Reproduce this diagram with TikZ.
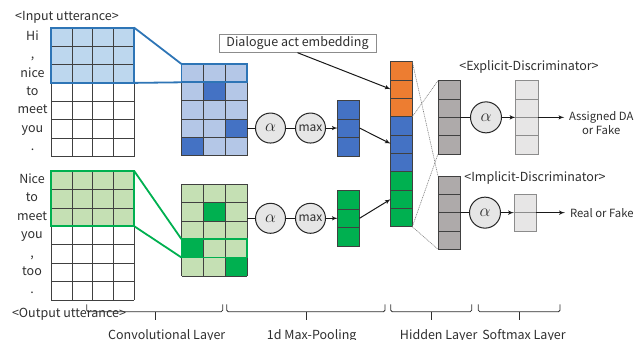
\documentclass[tikz,border=0pt]{standalone}
\usepackage{fontspec}
\setmainfont{Noto Sans CJK JP}
\usetikzlibrary{arrows,positioning,calc}

\definecolor{txtgray}{HTML}{2E2E2E}
\definecolor{gridgray}{HTML}{404040}
\definecolor{winblue}{HTML}{2E75B6}
\definecolor{inblue}{HTML}{BDD7EE}
\definecolor{lightblue}{HTML}{B4C7E7}
\definecolor{darkblue}{HTML}{4472C4}
\definecolor{wingreen}{HTML}{00B050}
\definecolor{lightgreen}{HTML}{C5E0B4}
\definecolor{darkgreen}{HTML}{00B050}
\definecolor{actorange}{HTML}{ED7D31}
\definecolor{hidgray}{HTML}{AEAAAA}
\definecolor{smgray}{HTML}{E7E6E6}
\definecolor{smedge}{HTML}{8C8C8C}
\definecolor{opfill}{HTML}{E6E6E6}
\definecolor{fangray}{HTML}{7F7F7F}

% activation symbol inside the circles
\newcommand{\actfn}{{\fontsize{16}{16}\selectfont$\alpha$}}

\begin{document}
\begin{tikzpicture}[x=1pt,y=-1pt,
				font=\fontsize{12.5}{13.7}\selectfont, text=txtgray,
				word/.style ={text height=1.5ex, text depth=.25ex, inner sep=0pt},
				grid/.style ={draw=gridgray, line width=0.6pt},
				block/.style ={rectangle, inner sep=0pt, outer sep=0pt, anchor=north west},
				vec/.style ={rectangle, draw=gridgray, line width=0.6pt, inner sep=0pt,
					outer sep=0pt, minimum width=21.8pt},
				win_blue/.style ={block, draw=winblue, line width=1.8pt},
				win_green/.style ={block, draw=wingreen, line width=1.8pt},
				op/.style ={circle, draw=black!85, line width=1pt, fill=opfill,
					minimum size=30pt, inner sep=0pt, font=\fontsize{12}{13}\selectfont},
				result/.style ={inner sep=0pt, font=\fontsize{11.3}{13.7}\selectfont},
				line/.style ={draw=black!90, line width=1pt, -latex', shorten >=0pt},
				link/.style ={draw=black!90, line width=1pt},
				fan/.style ={draw=fangray, line width=0.6pt, dash pattern=on 1pt off 0.8pt},
				bracket/.style ={draw=txtgray, line width=0.8pt, rounded corners=1.5pt}]
	\useasboundingbox (0,0) rectangle (635,340);

	% input utterance
	\node[block, minimum width=83.2pt, minimum height=128.8pt] (inGrid) at (51,27.7) {};
	\fill[inblue] (inGrid.north west) rectangle ++(83.2,55.2);
	\foreach \i in {0,...,4}
		\draw[grid] ($(inGrid.north west)+(20.8*\i,0)$) -- ++(0,128.8);
	\foreach \j in {0,...,7}
		\draw[grid] ($(inGrid.north west)+(0,18.4*\j)$) -- ++(83.2,0);
	\node[win_blue, minimum width=83.2pt, minimum height=55.2pt] (inWin) at (inGrid.north west) {};
	\foreach \w [count=\k] in {Hi,{,},nice,to,meet,you,.}
		\node[word] (inWord\k) at (32.5,{27.7+18.4*(\k-0.5)}) {\w};
	\node (inLbl) at (67,17) {<Input utterance>};

	% output utterance
	\node[block, minimum width=83.2pt, minimum height=128.8pt] (outGrid) at (51,171) {};
	\fill[lightgreen] (outGrid.north west) rectangle ++(83.2,55.2);
	\foreach \i in {0,...,4}
		\draw[grid] ($(outGrid.north west)+(20.8*\i,0)$) -- ++(0,128.8);
	\foreach \j in {0,...,7}
		\draw[grid] ($(outGrid.north west)+(0,18.4*\j)$) -- ++(83.2,0);
	\node[win_green, minimum width=83.2pt, minimum height=55.2pt] (outWin) at (outGrid.north west) {};
	\foreach \w [count=\k] in {Nice,to,meet,you,{,},too,.}
		\node[word] (outWord\k) at (32,{171+18.4*(\k-0.5)}) {\w};
	\node (outLbl) at (69,314.3) {<Output utterance>};

	% convolution maps
	\node[block, fill=lightblue, minimum width=65.7pt, minimum height=91.5pt] (convA) at (181.5,64) {};
	\foreach \c/\r in {1/1,2/3,0/4}
		\fill[darkblue] ($(convA.north west)+(21.9*\c,18.3*\r)$) rectangle ++(21.9,18.3);
	\foreach \i in {0,...,3}
		\draw[grid] ($(convA.north west)+(21.9*\i,0)$) -- ++(0,91.5);
	\foreach \j in {0,...,5}
		\draw[grid] ($(convA.north west)+(0,18.3*\j)$) -- ++(65.7,0);
	\node[win_blue, minimum width=65.7pt, minimum height=18.3pt] (convAWin) at (convA.north west) {};

	\node[block, fill=lightgreen, minimum width=65.7pt, minimum height=91.5pt] (convB) at (181.5,184.3) {};
	\foreach \c/\r in {1/1,0/3,2/4}
		\fill[darkgreen] ($(convB.north west)+(21.9*\c,18.3*\r)$) rectangle ++(21.9,18.3);
	\foreach \i in {0,...,3}
		\draw[grid] ($(convB.north west)+(21.9*\i,0)$) -- ++(0,91.5);
	\foreach \j in {0,...,5}
		\draw[grid] ($(convB.north west)+(0,18.3*\j)$) -- ++(65.7,0);
	\node[win_green, minimum width=65.7pt, minimum height=18.3pt] (convBWin) at ($(convB.north west)+(0,54.9)$) {};

	% windows
	\draw[draw=winblue, line width=1.8pt] (inWin.north east) -- (convAWin.north west)
		(inWin.south east) -- (convAWin.south west);
	\draw[draw=wingreen, line width=1.8pt] (outWin.north east) -- (convBWin.north west)
		(outWin.south east) -- (convBWin.south west);

	% pooling
	\coordinate (convARow) at ($(convA.north east)+(0,64.05)$);
	\node[op, right=7.8pt of convARow] (alphaA) {\actfn};
	\node[op, right=9pt of alphaA] (maxA) {max};
	\node[vec, fill=darkblue, minimum height=55.5pt, right=11.7pt of maxA] (poolA) {};
	\foreach \j in {1,2}
		\draw[grid] ($(poolA.north west)+(0,18.5*\j)$) -- ++(21.8,0);

	\coordinate (convBRow) at ($(convB.north east)+(0,34)$);
	\node[op, right=7.8pt of convBRow] (alphaB) {\actfn};
	\node[op, right=9pt of alphaB] (maxB) {max};
	\node[vec, fill=darkgreen, minimum height=55.5pt, right=11.7pt of maxB] (poolB) {};
	\foreach \j in {1,2}
		\draw[grid] ($(poolB.north west)+(0,18.5*\j)$) -- ++(21.8,0);

	\path[link] (convARow) -- (alphaA);
	\path[link] (alphaA) -- (maxA);
	\path[line] (maxA) -- (poolA);
	\path[link] (convBRow) -- (alphaB);
	\path[link] (alphaB) -- (maxB);
	\path[line] (maxB) -- (poolB);

	% hidden layer
	\fill[actorange] (390.7,61.7) rectangle ++(21.6,55);
	\fill[darkblue] (390.7,116.7) rectangle ++(21.6,55);
	\fill[darkgreen] (390.7,171.7) rectangle ++(21.6,55);
	\node[vec, minimum width=21.6pt, minimum height=165pt, anchor=north west] (hidden) at (390.7,61.7) {};
	\foreach \j in {1,...,8}
		\draw[grid] ($(hidden.north west)+(0,18.333*\j)$) -- ++(21.6,0);

	\node[draw=smedge, fill=white, line width=0.8pt, minimum width=157pt, minimum height=18pt,
		inner sep=0pt] (actEmb) at (297.5,43.3) {Dialogue act embedding};

	\path[line] (actEmb.south) -- ($(hidden.north west)+(0,27.5)$);
	\path[line] (poolA.east) -- ($(hidden.north west)+(0,82)$);
	\path[line] (poolB.east) -- ($(hidden.north west)+(0,137.5)$);

	% explicit discriminator
	\node[vec, fill=hidgray, minimum width=22pt, minimum height=73.3pt, anchor=north west] (expHid) at (438,80.7) {};
	\foreach \j in {1,2,3}
		\draw[grid] ($(expHid.north west)+(0,18.333*\j)$) -- ++(22,0);
	\node[op, minimum size=31pt, right=10pt of expHid] (expAlpha) {\actfn};
	\node[vec, draw=smedge, fill=smgray, minimum width=22.3pt, minimum height=73.3pt,
		right=13.5pt of expAlpha] (expSm) {};
	\foreach \j in {1,2,3}
		\draw[smedge, line width=0.6pt] ($(expSm.north west)+(0,18.333*\j)$) -- ++(22.3,0);
	\node[result, right=31pt of expSm, yshift=-5.9pt, align=center] (expOut) {Assigned DA\\or Fake};
	\node (expLbl) at (529,67.3) {<Explicit-Discriminator>};

	\path[link] (expHid) -- (expAlpha);
	\path[line] (expAlpha) -- (expSm);
	\path[line, shorten >=4.5pt] (expSm.east) -- (expSm.east -| expOut.west);

	% implicit discriminator
	\node[vec, fill=hidgray, minimum width=22pt, minimum height=73.3pt, anchor=north west] (impHid) at (438,176) {};
	\foreach \j in {1,2,3}
		\draw[grid] ($(impHid.north west)+(0,18.333*\j)$) -- ++(22,0);
	\node[op, minimum size=31pt, right=9pt of impHid] (impAlpha) {\actfn};
	\node[vec, draw=smedge, fill=smgray, minimum width=22.4pt, minimum height=37.4pt,
		right=13pt of impAlpha] (impSm) {};
	\draw[smedge, line width=0.6pt] (impSm.west) -- (impSm.east);
	\node[result, right=33.5pt of impSm] (impOut) {Real or Fake};
	\node (impLbl) at (535,178.3) {<Implicit-Discriminator>};

	\path[link] (impHid) -- (impAlpha);
	\path[line] (impAlpha) -- (impSm);
	\path[line, shorten >=5pt] (impSm.east) -- (impOut.west);

	% hidden to discriminators
	\path[fan] (hidden.north east) -- (impHid.north west);
	\path[fan] ($(hidden.north east)+(0,55)$) -- (expHid.north west);
	\path[fan] (hidden.south east) -- (expHid.south west);
	\path[fan] (hidden.south east) -- (impHid.south west);

	% layer braces
	\foreach \a/\b/\t/\c/\name [count=\k] in {86.7/222.7/155/166.7/Convolutional Layer,
			226.7/385/306.7/311.7/1d Max-Pooling, 390.7/471.7/431.7/438.7/Hidden Layer,
			478.3/560/519/524/Softmax Layer}
	{
		\draw[bracket] (\a,304.3) -- (\a,311.7) -- (\b,311.7) -- (\b,304.3);
		\draw[bracket] (\t,311.7) -- (\t,320);
		\node[anchor=base] (layer\k) at (\c,339.5) {\name};
	}
\end{tikzpicture}
\end{document}
